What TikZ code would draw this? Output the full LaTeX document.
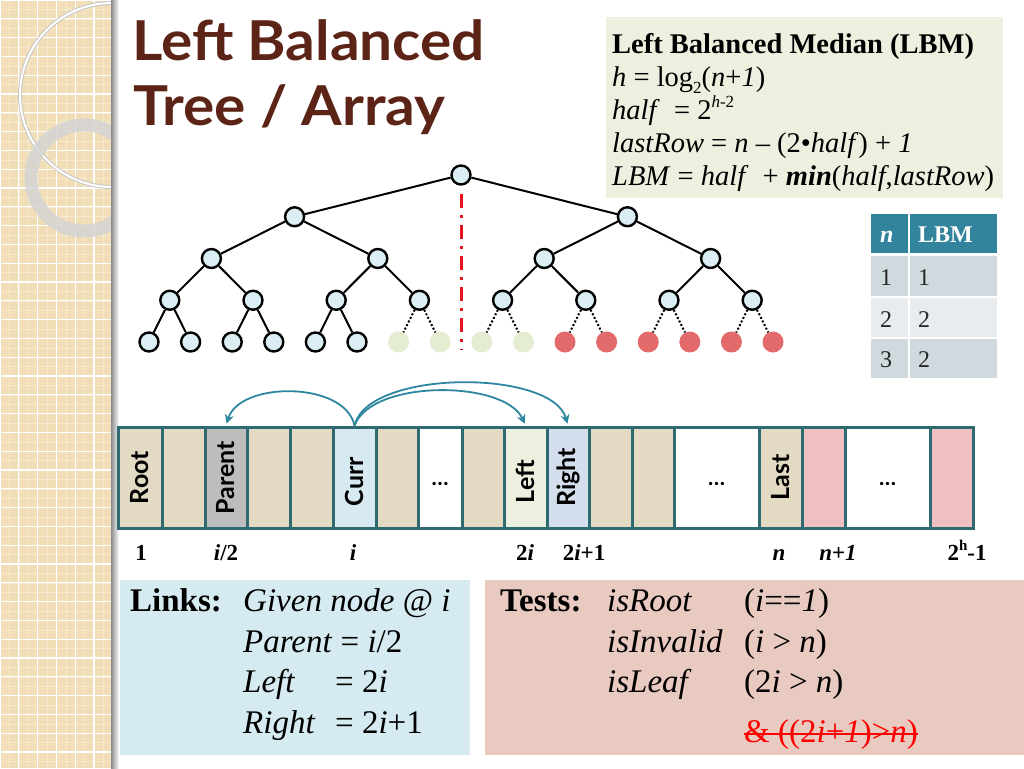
\documentclass[tikz,border=0pt]{standalone}
\usepackage{fontspec}
\setmainfont{Liberation Serif}
\newfontfamily\gill{Lato}
\usetikzlibrary{arrows.meta}
\definecolor{stripbg}{HTML}{F1DEB6}
\definecolor{titlebrown}{HTML}{5C2416}
\definecolor{lbmgreen}{HTML}{EBF1DE}
\definecolor{hdrteal}{HTML}{31849B}
\definecolor{trowa}{HTML}{D0DADE}
\definecolor{trowb}{HTML}{E8ECEE}
\definecolor{nodeblue}{HTML}{DAEEF3}
\definecolor{leafgreen}{HTML}{E4ECD2}
\definecolor{leafred}{HTML}{E26A6A}
\definecolor{cbeige}{HTML}{E3DAC3}
\definecolor{cgray}{HTML}{BDBDBD}
\definecolor{cblue}{HTML}{D7EAF2}
\definecolor{cgreen}{HTML}{EBF1DE}
\definecolor{crblue}{HTML}{D4DEEC}
\definecolor{cpink}{HTML}{EEC0C2}
\definecolor{cborder}{HTML}{2F6A70}
\definecolor{arrteal}{HTML}{2E86A0}
\definecolor{linksbg}{HTML}{D6EBF1}
\definecolor{testsbg}{HTML}{E9CAC1}
\definecolor{dashred}{HTML}{E3141B}
\newcommand{\fsz}[1]{\fontsize{#1}{#1}\selectfont}
\newcommand{\mysub}[1]{\raisebox{-0.28em}{\fontsize{17}{17}\selectfont #1}}
\newcommand{\mysup}[1]{\raisebox{0.42em}{\fontsize{17}{17}\selectfont #1}}
\tikzset{
  tnode/.style={circle, draw=black, line width=2.4pt, fill=nodeblue, minimum size=19pt, inner sep=0pt},
  gleaf/.style={circle, fill=leafgreen, minimum size=21pt, inner sep=0pt},
  rleaf/.style={circle, fill=leafred, minimum size=21pt, inner sep=0pt},
  tedge/.style={draw=black, line width=2pt},
  dedge/.style={draw=black, line width=2pt, dash pattern=on 2pt off 2pt},
  cell/.style={rectangle, draw=cborder, line width=3pt, minimum height=101pt, inner sep=0pt},
  clabel/.style={rotate=90, font=\gill\bfseries\fsz{25}, inner sep=0pt},
  cdots/.style={font=\gill\bfseries\fsz{22}, inner sep=0pt},
  idx/.style={font=\bfseries\fsz{23}, anchor=base, inner sep=0pt},
  tarrow/.style={draw=arrteal, line width=1.8pt, -{Stealth[length=9pt,width=9pt]}, shorten >=2pt},
  lbmtxt/.style={font=\fsz{28.5}, anchor=base west, inner sep=0pt},
  boxtxt/.style={font=\fsz{33}, anchor=base west, inner sep=0pt},
  tabtxt/.style={font=\fsz{24}, anchor=base west, inner sep=0pt, text=black!85},
  ttl/.style={font=\gill\bfseries\fsz{55}, anchor=base west, inner sep=0pt, xscale=1.065},
}
\begin{document}
\begin{tikzpicture}[x=1pt,y=-1pt]
\useasboundingbox (0,0) rectangle (1024,768);
\fill[white] (0,0) rectangle (1024,768);
% left decorative strip
\fill[stripbg] (0,0) rectangle (113,768);
\begin{scope}
  \clip (0,0) rectangle (113,768);
  \foreach \g in {0,9.4,...,768} {
    \draw[white, opacity=0.35, line width=0.5pt] (0,\g) -- (113,\g);
  }
  \foreach \g in {0,9.4,...,113} {
    \draw[white, opacity=0.35, line width=0.5pt] (\g,0) -- (\g,768);
  }
  \foreach \g in {0,18.8,...,768} {
    \draw[white, line width=1.3pt] (0,\g) -- (113,\g);
  }
  \foreach \g in {0,18.8,...,113} {
    \draw[white, line width=1.3pt] (\g,0) -- (\g,768);
  }
  \draw[black!22, line width=4pt] (112,95) circle[radius=92];
  \draw[white, line width=2pt] (112,95) circle[radius=92];
  \draw[black!17, opacity=0.85, line width=13pt] (84,178) circle[radius=53];
\end{scope}
\shade[left color=black!45, right color=white] (111,0) rectangle (119,768);
% title
\node[ttl, text=titlebrown] (t1) at (132,60) {Left Balanced};
\node[ttl, text=titlebrown] (t2) at (133,125) {Tree / Array};
% LBM box
\fill[lbmgreen] (606,17) rectangle (1003,198);
\node[lbmtxt] (f1) at (612,53) {\textbf{Left Balanced Median (LBM)}};
\node[lbmtxt] (f2) at (612,86) {\textit{h} = log\mysub{2}(\textit{n}+\textit{1})};
\node[lbmtxt] (f3) at (612,119) {\textit{half}\ \ = 2\mysup{\textit{h}-2}};
\node[lbmtxt] (f4) at (612,152) {\textit{lastRow} = \textit{n} – (2•\textit{half}) + \textit{1}};
\node[lbmtxt] (f5) at (612,185) {\textit{LBM} = \textit{half}\ \ + \textbf{\textit{min}}(\textit{half},\textit{lastRow})};
% table
\fill[hdrteal] (871,214) rectangle (997,253);
\fill[trowa] (871,256) rectangle (997,296);
\fill[trowb] (871,298) rectangle (997,337);
\fill[trowa] (871,339) rectangle (997,378);
\draw[white, line width=2pt] (908.5,214) -- (908.5,378);
\node[tabtxt, text=white] (th1) at (880,242) {\textbf{\textit{n}}};
\node[tabtxt, text=white] (th2) at (918,242) {\textbf{LBM}};
\node[tabtxt] (ta1) at (880,285) {1};
\node[tabtxt] (tb1) at (918,285) {1};
\node[tabtxt] (ta2) at (880,327) {2};
\node[tabtxt] (tb2) at (918,327) {2};
\node[tabtxt] (ta3) at (880,367) {3};
\node[tabtxt] (tb3) at (918,367) {2};
% tree
\draw[dashred, line width=3pt, dash pattern=on 14pt off 7pt on 3pt off 7pt] (461,194) -- (461,350);
\foreach \d in {0,...,4}{
  \pgfmathtruncatemacro{\cnt}{2^\d}
  \pgfmathsetmacro{\tsp}{665.6/\cnt}
  \pgfmathsetmacro{\yy}{175+41.75*\d}
  \foreach \p in {1,...,\cnt}{
    \pgfmathtruncatemacro{\kk}{\cnt+\p-1}
    \pgfmathsetmacro{\xx}{461+(\p-1-(\cnt-1)/2)*\tsp}
    \ifnum\kk<22
      \node[tnode] (n\kk) at (\xx,\yy) {};
    \else\ifnum\kk<26
      \node[gleaf] (n\kk) at (\xx,\yy) {};
    \else
      \node[rleaf] (n\kk) at (\xx,\yy) {};
    \fi\fi
  }
}
\foreach \kk in {2,...,31}{
  \pgfmathtruncatemacro{\pp}{int(\kk/2)}
  \ifnum\kk<22
    \draw[tedge] (n\pp) -- (n\kk);
  \else
    \draw[dedge] (n\pp) -- (n\kk);
  \fi
}
% array
\foreach \i/\l/\r/\c in {1/118/162/cbeige, 2/162/205/cbeige, 3/205/247/cgray, 4/247/290/cbeige,
  5/290/333/cbeige, 6/333/376/cblue, 7/376/418/cbeige, 8/418/462/white, 9/462/504/cbeige,
  10/504/547/cgreen, 11/547/589/crblue, 12/589/632/cbeige, 13/632/674/cbeige, 14/674/759/white,
  15/759/802/cbeige, 16/802/845/cpink, 17/845/930/white, 18/930/973/cpink}{
  \pgfmathsetmacro{\w}{\r-\l}
  \pgfmathsetmacro{\cx}{(\l+\r)/2}
  \node[cell, fill=\c, minimum width=\w] (c\i) at (\cx,477.5) {};
}
\node[clabel] (lroot) at (c1) {Root};
\node[clabel] (lparent) at (c3) {Parent};
\node[clabel] (lcurr) at ([yshift=-4pt]c6.center) {Curr};
\node[clabel] (lleft) at ([yshift=-4pt]c10.center) {Left};
\node[clabel] (lright) at (c11) {Right};
\node[clabel] (llast) at (c15) {Last};
\node[cdots] (d1) at ([yshift=-6pt]c8.center) {…};
\node[cdots] (d2) at ([yshift=-6pt]c14.center) {…};
\node[cdots] (d3) at ([yshift=-6pt]c17.center) {…};
% arrows
\draw[tarrow] (c6.north) .. controls (345,381) and (240,381) .. (c3.north);
\draw[tarrow] (c6.north) .. controls (372,379) and (505,380) .. (c10.north);
\draw[tarrow] (c6.north) .. controls (368,369) and (552,369) .. (c11.north);
% index labels
\node[idx] (i1) at (141,560) {1};
\node[idx] (i2) at (226,560) {\textit{i}/2};
\node[idx] (i3) at (353,560) {\textit{i}};
\node[idx] (i4) at (525,560) {2\textit{i}};
\node[idx] (i5) at (584,560) {2\textit{i}+1};
\node[idx] (i6) at (779,560) {\textit{n}};
\node[idx] (i7) at (838,560) {\textit{n}+\textit{1}};
\node[idx] (i8) at (967,560) {2\mysup{\fsz{15}h}-1};
% links box
\fill[linksbg] (120,580) rectangle (470,755);
\node[boxtxt] (lk0) at (130,611) {\textbf{Links:}};
\node[boxtxt] (lk1) at (243,611) {\textit{Given node @ i}};
\node[boxtxt] (lk2) at (243,652) {\textit{Parent} = \textit{i}/2};
\node[boxtxt] (lk3) at (243,692) {\textit{Left}};
\node[boxtxt] (lk3b) at (335,692) {= 2\textit{i}};
\node[boxtxt] (lk4) at (243,733) {\textit{Right}};
\node[boxtxt] (lk4b) at (335,733) {= 2\textit{i}+1};
% tests box
\fill[testsbg] (485,580) rectangle (1024,755);
\node[boxtxt] (ts0) at (500,611) {\textbf{Tests:}};
\node[boxtxt] (ts1) at (607,611) {\textit{isRoot}};
\node[boxtxt] (ts1b) at (744,611) {(\textit{i}==\textit{1})};
\node[boxtxt] (ts2) at (607,652) {\textit{isInvalid}};
\node[boxtxt] (ts2b) at (744,652) {(\textit{i} > \textit{n})};
\node[boxtxt] (ts3) at (607,692) {\textit{isLeaf}};
\node[boxtxt] (ts3b) at (744,692) {(2\textit{i} > \textit{n})};
\node[boxtxt, text=red] (ts4) at (744,742) {\& ((2\textit{i}+\textit{1})>\textit{n})};
\draw[red, line width=1.3pt] (ts4.west) -- (ts4.east);
\end{tikzpicture}
\end{document}
